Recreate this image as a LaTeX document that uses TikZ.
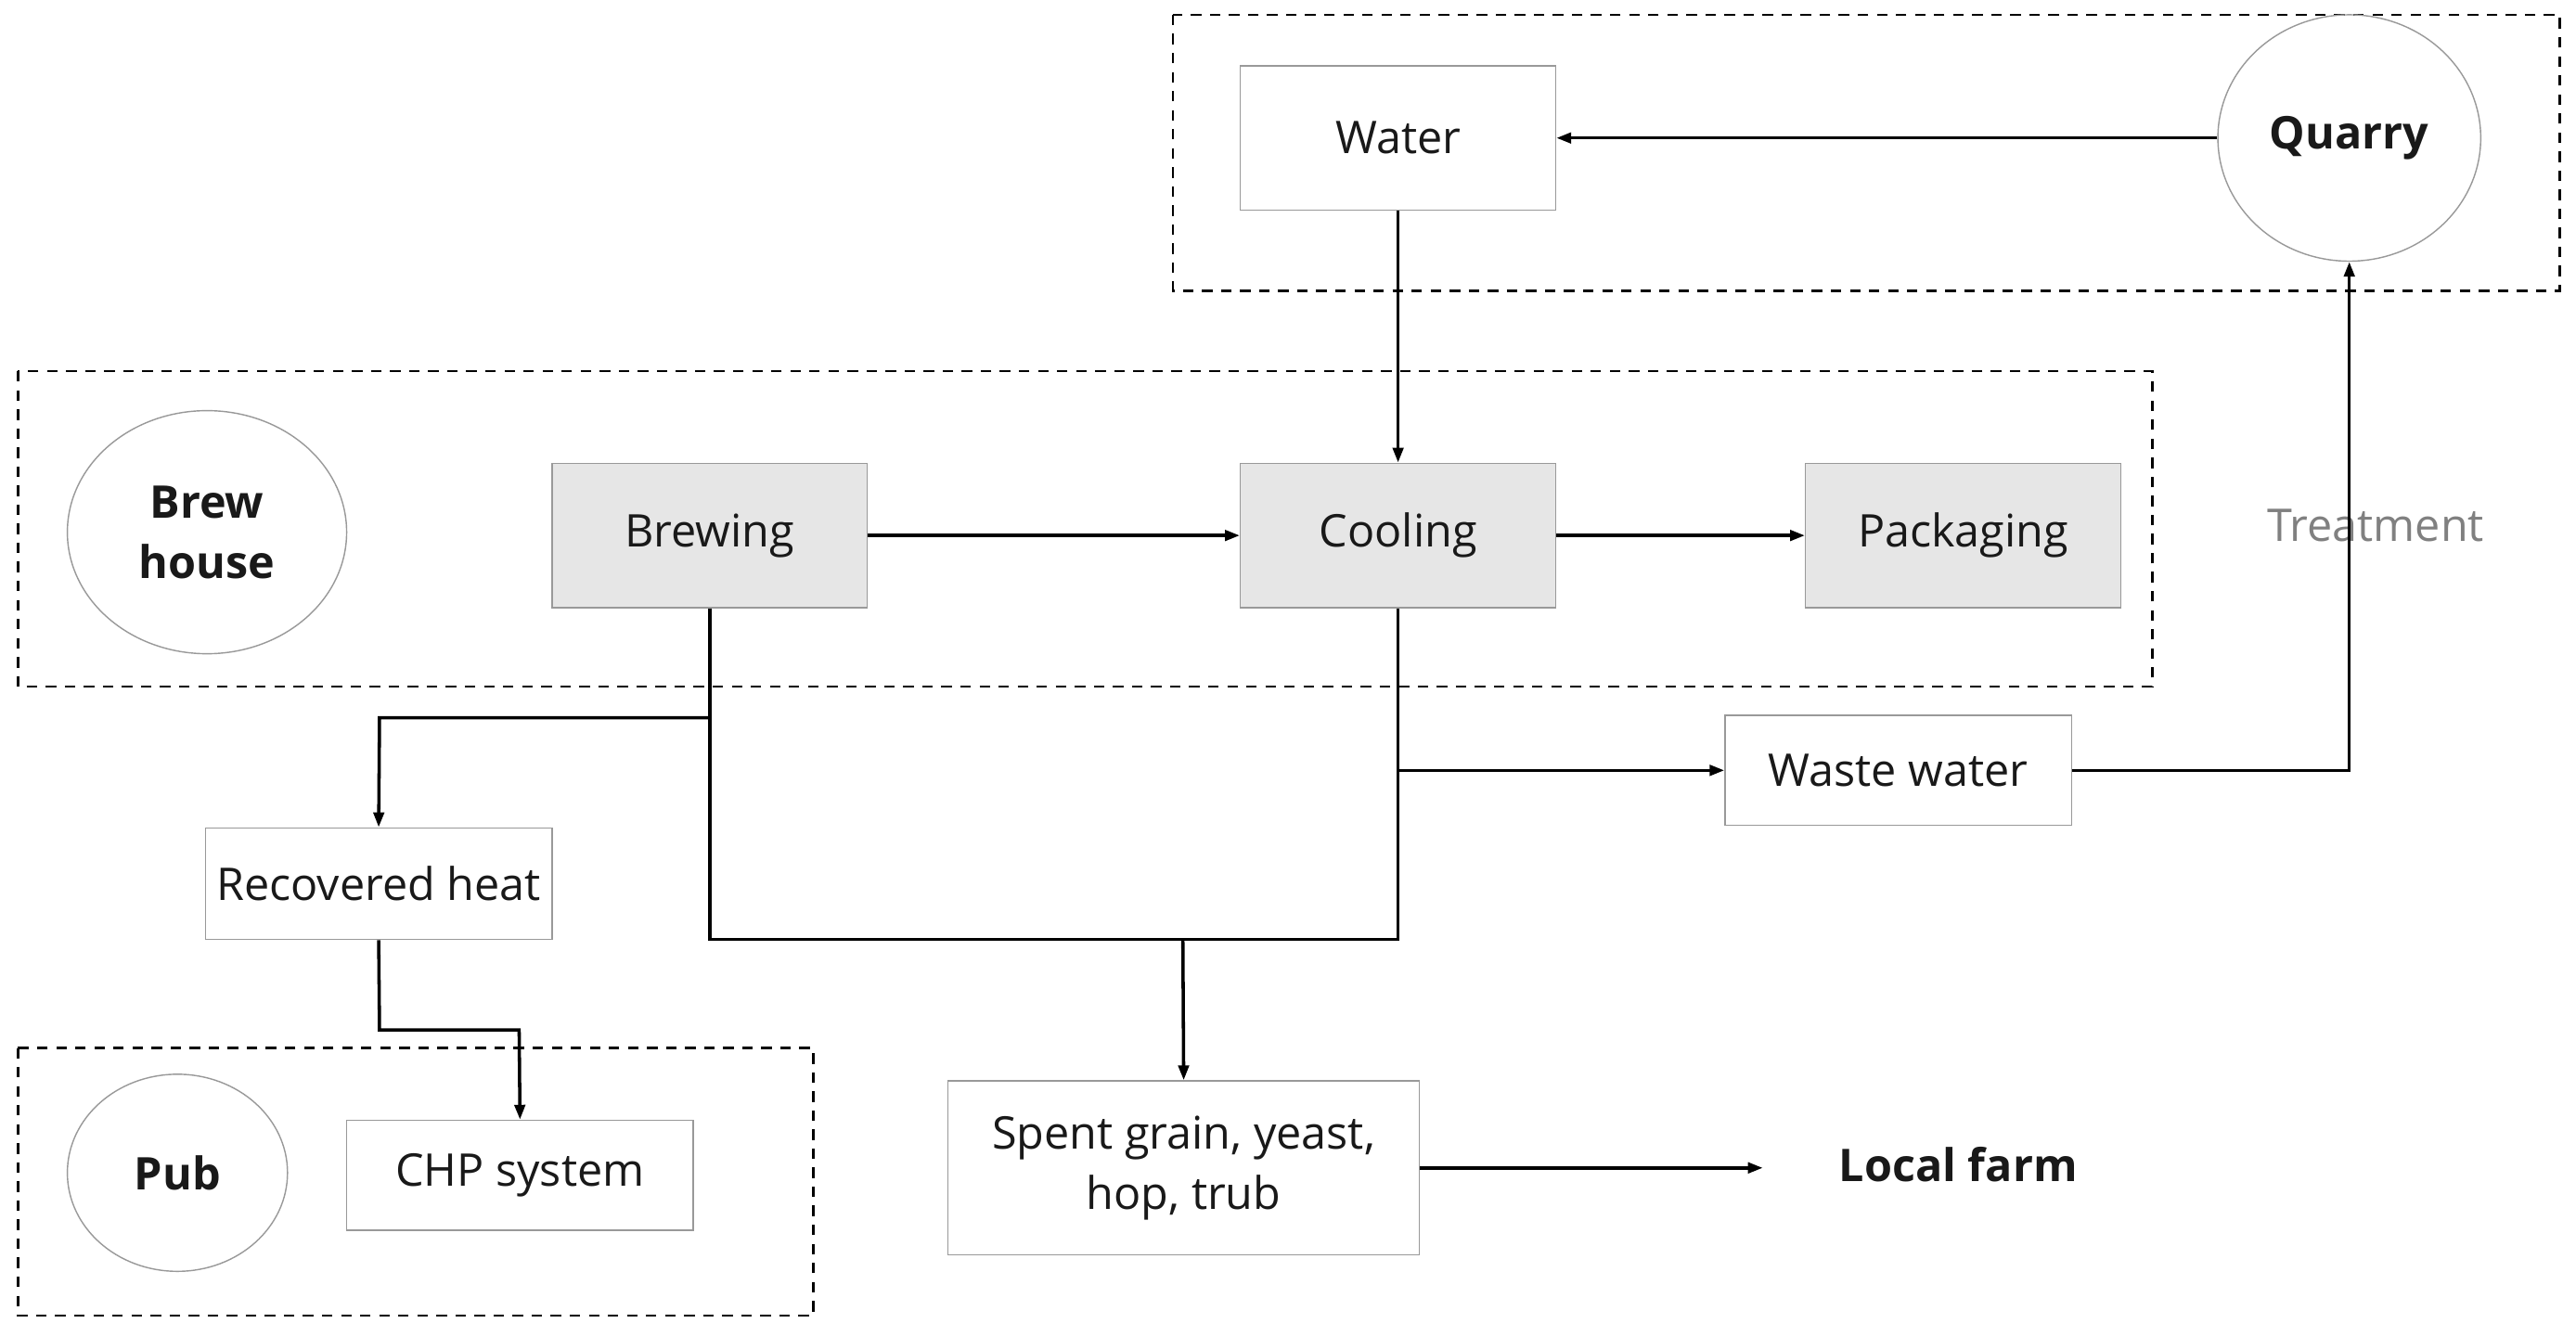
\documentclass[tikz,border=0pt]{standalone}
\usepackage{fontspec}
\setmainfont{Open Sans}
\usetikzlibrary{arrows.meta,shapes.geometric}
\definecolor{boxgray}{HTML}{999999}
\definecolor{fillgray}{HTML}{E6E6E6}
\definecolor{txtgray}{HTML}{808080}
\begin{document}
\begin{tikzpicture}[x=0.5pt,y=-0.5pt,
  every node/.style={font=\fontsize{13.7}{18.3}\selectfont, inner sep=0pt, text=black!90},
  procbox/.style={draw=boxgray, line width=0.4pt, fill=fillgray, minimum width=96pt, minimum height=44pt, anchor=center},
  plainbox/.style={draw=boxgray, line width=0.4pt, fill=white, anchor=center},
  siteell/.style={draw=boxgray, line width=0.4pt, ellipse, font=\fontsize{13.7}{18.3}\selectfont\bfseries, align=center},
  region/.style={draw=black, line width=0.75pt, dash pattern=on 3.2pt off 2.6pt},
  conn/.style={draw=black, line width=1pt},
  arr/.style={conn, -{Triangle[length=4.5pt,width=3.2pt]}}
]
\useasboundingbox (0,0) rectangle (1568,813);
% regions
\draw[region] (714,9) rectangle (1558,177);
\draw[region] (11,226) rectangle (1310,418);
\draw[region] (11,638) rectangle (495,801);

% nodes
\node[plainbox, minimum width=96pt, minimum height=44pt] (water) at (851,84) {Water};
\node[siteell, minimum width=80pt, minimum height=75pt] (quarry) at (1430,84) {Quarry};
\node[siteell, minimum width=85pt, minimum height=74pt] (brewhouse) at (126,324) {Brew\\house};
\node[procbox] (brewing) at (432,326) {Brewing};
\node[procbox] (cooling) at (851,326) {Cooling};
\node[procbox] (packaging) at (1195,326) {Packaging};
\node[text=txtgray] (treat) at (1446,320) {Treatment};
\node[plainbox, minimum width=105.5pt, minimum height=33.5pt] (waste) at (1155.5,469) {Waste water};
\node[plainbox, minimum width=105.5pt, minimum height=34pt] (heat) at (230.5,538) {Recovered heat};
\node[plainbox, minimum width=143.5pt, minimum height=53pt, align=center] (spent) at (720.5,711) {Spent grain, yeast,\\hop, trub};
\node[font=\fontsize{13.7}{18.3}\selectfont\bfseries] (farm) at (1192,709) {Local farm};
\node[siteell, minimum width=67pt, minimum height=60pt] (pub) at (108,714) {Pub};
\node[plainbox, minimum width=105.5pt, minimum height=33.5pt] (chp) at (316.5,715.5) {CHP system};

% junction coordinates
\coordinate (jb) at (432,437);
\coordinate (jbl) at (231,437);
\coordinate (jc) at (851,469);
\coordinate (bl) at (432,572);
\coordinate (br) at (851,572);
\coordinate (bm) at (720,572);
\coordinate (h1) at (231,627);
\coordinate (h2) at (316,627);
\coordinate (t1) at (1430,469);
\coordinate (farmend) at (1073,711);

% connectors
\draw[arr] (quarry.west) -- (water.east);
\draw[arr] (water.south) -- (cooling.north);
\draw[arr] (brewing.east) -- (cooling.west);
\draw[arr] (cooling.east) -- (packaging.west);
\draw[conn] (brewing.south) -- (bl) -- (br) -- (cooling.south);
\draw[arr] (jb) -- (jbl) -- (heat.north);
\draw[arr] (jc) -- (waste.west);
\draw[arr] (bm) -- (spent.north);
\draw[arr] (heat.south) -- (h1) -- (h2) -- (chp.north);
\draw[arr] (waste.east) -- (t1) -- (quarry.south);
\draw[arr] (spent.east) -- (farmend);
\end{tikzpicture}
\end{document}
